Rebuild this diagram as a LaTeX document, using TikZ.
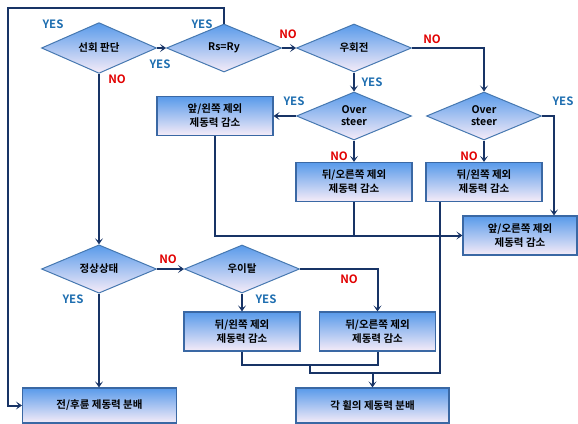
\documentclass[tikz,border=0pt]{standalone}
\usepackage{fontspec}
\setmainfont{Noto Sans CJK KR}[BoldFont={* Bold}]
\usetikzlibrary{shapes.geometric,arrows.meta}
\definecolor{topblue}{RGB}{88,154,234}
\definecolor{botpink}{RGB}{246,236,248}
\definecolor{boxedge}{RGB}{58,104,164}
\definecolor{diaedge}{RGB}{70,120,176}
\definecolor{linecol}{RGB}{24,52,102}
\definecolor{yescol}{RGB}{30,110,176}
\definecolor{nocol}{RGB}{225,0,0}
\tikzset{
  dia/.style={diamond, draw=diaedge, line width=1pt, top color=topblue, bottom color=botpink,
    minimum width=115pt, minimum height=48pt, inner sep=0pt, align=center,
    font=\fontsize{10.5}{12}\selectfont\bfseries},
  boxn/.style={rectangle, draw=boxedge, line width=1.2pt, top color=topblue, bottom color=botpink,
    minimum width=116pt, minimum height=39pt, inner sep=0pt, align=center,
    font=\fontsize{10.5}{14}\selectfont\bfseries},
  wbox/.style={boxn, minimum width=154pt, minimum height=35pt},
  conn/.style={draw=linecol, line width=2pt},
  arr/.style={conn, -{Stealth[length=6pt,width=8pt,inset=3pt]}},
  yes/.style={text=yescol, font=\fontsize{11.5}{11.5}\selectfont\bfseries, inner sep=0pt},
  no/.style={text=nocol, font=\fontsize{11.5}{11.5}\selectfont\bfseries, inner sep=0pt}
}
\begin{document}
\begin{tikzpicture}[x=1pt,y=-1pt]
\useasboundingbox (0,0) rectangle (578,423);
% diamonds
\node[dia] (d1) at (99,48) {선회 판단};
\node[dia] (d2) at (224,48) {Rs=Ry};
\node[dia] (d3) at (354,48) {우회전};
\node[dia] (d4) at (354,116) {Over\\steer};
\node[dia] (d5) at (484,116) {Over\\steer};
\node[dia] (d6) at (99,269) {정상상태};
\node[dia] (d7) at (242,269) {우이탈};
% boxes
\node[boxn] (b1) at (215,116) {앞/왼쪽 제외\\제동력 감소};
\node[boxn] (b2) at (354,182) {뒤/오른쪽 제외\\제동력 감소};
\node[boxn] (b3) at (484,182) {뒤/왼쪽 제외\\제동력 감소};
\node[boxn, minimum width=114pt] (b4) at (520,235.5) {앞/오른쪽 제외\\제동력 감소};
\node[boxn] (b5) at (242,331.5) {뒤/왼쪽 제외\\제동력 감소};
\node[boxn] (b6) at (377.5,331.5) {뒤/오른쪽 제외\\제동력 감소};
\node[wbox] (b7) at (99.5,405.5) {전/후륜 제동력 분배};
\node[wbox, minimum width=153pt] (b8) at (372.5,405.5) {각 휠의 제동력 분배};
% helper coordinates
\coordinate (lt) at (8,8);
\coordinate (c5) at (554,116);
\coordinate (j1) at (310,365);
\coordinate (j2) at (440,373);
% connectors
\draw[arr] (d1.east) -- (d2.west);
\draw[arr] (d2.north) |- (lt) |- (b7.west);
\draw[arr] (d2.east) -- (d3.west);
\draw[arr] (d3.east) -| (d5.north);
\draw[arr] (d3.south) -- (d4.north);
\draw[arr] (d4.west) -- (b1.east);
\draw[arr] (d4.south) -- (b2.north);
\draw[arr] (d5.south) -- (b3.north);
\draw[arr] (d5.east) -- (c5) -- (c5 |- b4.north);
\draw[arr] (b1.south) |- (b4.west);
\draw[conn] (b2.south) -- (b2.south |- b4.west);
\draw[conn] (b5.south) |- (j1) -| (b6.south);
\draw[conn] (j1) |- (j2) -- (j2 |- b3.south);
\draw[arr] (b8.north |- j2) -- (b8.north);
\draw[arr] (d1.south) -- (d6.north);
\draw[arr] (d6.east) -- (d7.west);
\draw[arr] (d6.south) -- (d6.south |- b7.north);
\draw[arr] (d7.south) -- (b5.north);
\draw[arr] (d7.east) -| (b6.north);
% labels
\node[yes] (y1) at (53,24) {YES};
\node[yes] (y2) at (202,24) {YES};
\node[yes] (y3) at (160,64) {YES};
\node[no] (n1) at (117,79) {NO};
\node[no] (n2) at (288,34) {NO};
\node[no] (n3) at (432,39) {NO};
\node[yes] (y4) at (372,82) {YES};
\node[yes] (y5) at (294,101) {YES};
\node[yes] (y6) at (563,101) {YES};
\node[no] (n4) at (339,156) {NO};
\node[no] (n5) at (469,156) {NO};
\node[no] (n6) at (168,259) {NO};
\node[no] (n7) at (349,279) {NO};
\node[yes] (y7) at (73,299) {YES};
\node[yes] (y8) at (266,299) {YES};
\end{tikzpicture}
\end{document}
